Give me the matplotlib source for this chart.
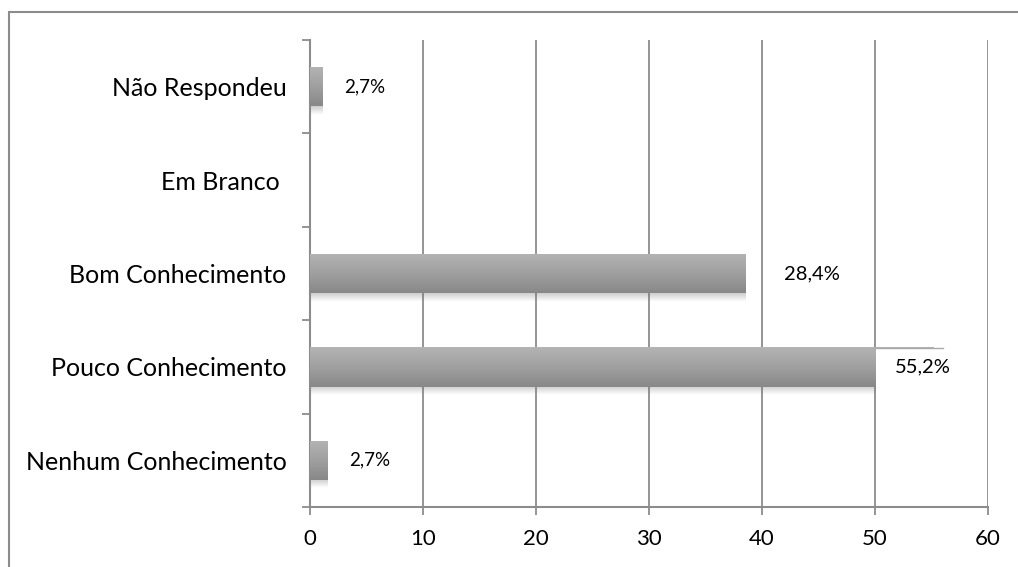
import matplotlib
matplotlib.use("Agg")
import matplotlib.pyplot as plt
import numpy as np
from matplotlib.patches import Rectangle
from matplotlib.colors import LinearSegmentedColormap

# ---- data ----
categories = ["Nenhum Conhecimento", "Pouco Conhecimento", "Bom Conhecimento",
              "Em Branco ", "Não Respondeu"]
values = [1.55, 55.2, 38.5, 0.0, 1.1]
pct_labels = ["2,7%", "55,2%", "28,4%", None, "2,7%"]
x_ticks = [0, 10, 20, 30, 40, 50, 60]

# ---- layout (label x positions in data units, label sizes) ----
label_x = [5.3, 54.2, 44.4, None, 4.87]
label_fs = [13.5, 14.5, 14.5, None, 13.5]

W, H = 1018, 567
fig = plt.figure(figsize=(W / 100, H / 100), dpi=100)
plt.rcParams['font.family'] = ['Lato', 'DejaVu Sans']

# outer chart border (right and bottom edges fall outside the image)
fig.patches.append(Rectangle((9 / W, -0.2), 1.2, 1.2 - 12 / H, transform=fig.transFigure,
                             fill=False, edgecolor="#8c8c8c", linewidth=1.5))

ax = fig.add_axes([310 / W, 1 - 507 / H, (988 - 310) / W, (507 - 40) / H])
grey = "#8c8c8c"

ax.set_xlim(0, 60)
ax.set_ylim(-0.5, 4.5)

# gridlines
ax.set_xticks(x_ticks)
ax.set_xticklabels([str(t) for t in x_ticks], fontsize=16)
ax.grid(axis="x", color=grey, linewidth=1.3)
ax.set_axisbelow(True)

for s in ["top", "right"]:
    ax.spines[s].set_visible(False)
for s in ["left", "bottom"]:
    ax.spines[s].set_color(grey)
    ax.spines[s].set_linewidth(1.5)

ax.tick_params(axis="x", direction="out", length=6, width=1.3, color=grey, pad=10)

# y ticks: labels at centers, tick marks at boundaries
ypos = np.arange(len(categories))
ax.set_yticks(ypos)
ax.set_yticklabels(categories, fontsize=18)
ax.tick_params(axis="y", which="major", length=0, pad=17)
ax.set_yticks(np.arange(-0.5, len(categories), 1.0), minor=True)
ax.tick_params(axis="y", which="minor", direction="out", length=6, width=1.3, color=grey)

# bars with vertical gradient
cmap = LinearSegmentedColormap.from_list("g", ["#888888", "#a0a0a0", "#b4b4b4"])
grad = np.linspace(0, 1, 64).reshape(-1, 1)
bh = 0.42
for y, v in zip(ypos, values):
    if v <= 0:
        continue
    bars = ax.barh([y], [v], height=bh, color="none", edgecolor="none")
    patch = bars.patches[0]
    im = ax.imshow(grad, extent=[0, v, y - bh / 2, y + bh / 2], origin="lower",
                   aspect="auto", cmap=cmap, zorder=3)
    im.set_clip_path(patch)
    # soft shadow under the bar
    sh = np.zeros((16, 2, 4))
    sh[..., :3] = 0.45
    sh[..., 3] = np.linspace(0, 0.35, 16).reshape(-1, 1)
    ax.imshow(sh, extent=[0, v, y - bh / 2 - 0.09, y - bh / 2], origin="lower",
              aspect="auto", zorder=2)

ax.set_xlim(0, 60)
ax.set_ylim(-0.5, 4.5)

# white data-label box over the end of the longest bar
i = 1
ax.add_patch(Rectangle((50.1, ypos[i] - bh / 2 - 0.1), 5.9, bh + 0.08,
                       facecolor="white", edgecolor="none", zorder=4))
ax.plot([50, 56], [ypos[i] + bh / 2 - 0.01] * 2, color="#aaaaaa", linewidth=1,
        zorder=5, clip_on=False)

for y, lab, lx, fs in zip(ypos, pct_labels, label_x, label_fs):
    if lab is None:
        continue
    ax.text(lx, y, lab, fontsize=fs, ha="center", va="center", zorder=6)

fig.savefig("out.png", dpi=100)
